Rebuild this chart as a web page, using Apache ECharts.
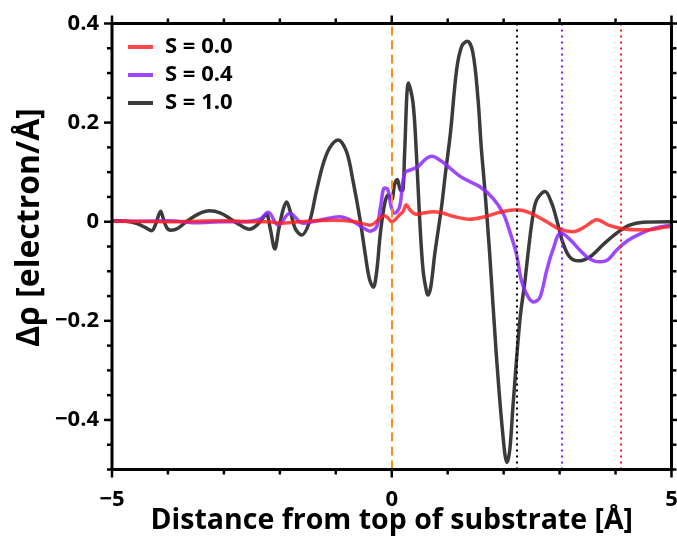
<!DOCTYPE html>
<html>
<head>
<meta charset="utf-8">
<script src="https://cdn.jsdelivr.net/npm/echarts@6/dist/echarts.min.js"></script>
<style>
html,body{margin:0;padding:0;background:#fff;}
#chart{width:677px;height:542px;}
</style>
</head>
<body>
<div id="chart"></div>
<script>
// ---- data ----
const seriesNames = ['S = 0.0', 'S = 0.4', 'S = 1.0'];

const xS00 = [-5.0,-4.0,-3.0,-2.5,-2.18,-2.0,-1.64,-1.05,-0.66,-0.39,-0.13,-0.07,0.0,0.07,0.14,0.20,0.26,0.34,0.44,0.59,0.73,0.89,1.13,1.39,1.66,1.93,2.23,2.47,2.77,3.0,3.24,3.48,3.66,3.90,4.08,4.34,4.61,4.97,5.0];
const yS00 = [0.001,0.0,0.002,0.0,0.0,-0.003,0.0,0.003,0.0,-0.007,0.012,0.008,0.0,0.005,0.014,0.02,0.034,0.022,0.015,0.018,0.02,0.018,0.01,0.005,0.01,0.019,0.024,0.018,0.0,-0.015,-0.02,-0.008,0.004,-0.008,-0.013,-0.016,-0.016,-0.01,-0.01];

const xS04 = [-5.0,-4.5,-4.0,-3.5,-3.0,-2.7,-2.36,-2.21,-2.03,-1.82,-1.59,-1.29,-0.93,-0.75,-0.54,-0.39,-0.27,-0.20,-0.13,-0.07,-0.01,0.05,0.14,0.23,0.35,0.47,0.59,0.71,0.89,1.04,1.27,1.57,1.81,1.99,2.11,2.23,2.32,2.44,2.54,2.65,2.77,2.88,3.02,3.16,3.36,3.54,3.72,3.86,4.02,4.22,4.43,4.70,4.97,5.0];
const yS04 = [0.002,0.001,0.002,-0.002,0.0,0.0,0.005,0.019,-0.007,0.017,-0.003,0.003,0.01,0.004,-0.01,-0.019,-0.01,0.03,0.068,0.065,0.03,0.017,0.03,0.098,0.105,0.111,0.125,0.132,0.122,0.108,0.088,0.071,0.047,0.017,-0.02,-0.066,-0.12,-0.152,-0.162,-0.152,-0.098,-0.057,-0.023,-0.033,-0.057,-0.075,-0.081,-0.077,-0.057,-0.038,-0.025,-0.013,-0.007,-0.006];

const xS10 = [-5.0,-4.75,-4.55,-4.40,-4.29,-4.22,-4.13,-4.08,-4.02,-3.95,-3.82,-3.65,-3.45,-3.25,-3.07,-2.90,-2.72,-2.54,-2.42,-2.30,-2.24,-2.17,-2.09,-2.02,-1.94,-1.88,-1.80,-1.72,-1.61,-1.47,-1.35,-1.23,-1.11,-0.96,-0.81,-0.69,-0.57,-0.48,-0.40,-0.33,-0.27,-0.20,-0.12,-0.06,0.0,0.05,0.10,0.16,0.20,0.23,0.30,0.38,0.44,0.50,0.56,0.62,0.65,0.70,0.77,0.89,0.96,1.05,1.16,1.25,1.35,1.45,1.54,1.60,1.66,1.75,1.87,1.99,2.06,2.11,2.17,2.29,2.38,2.45,2.52,2.59,2.74,2.86,2.95,3.06,3.18,3.33,3.54,3.77,4.02,4.25,4.49,5.0];
const yS10 = [0.002,0.001,-0.004,-0.012,-0.018,-0.005,0.021,0.005,-0.012,-0.017,-0.013,0.002,0.016,0.022,0.018,0.007,-0.006,-0.015,-0.008,0.008,0.015,-0.015,-0.055,-0.015,0.025,0.04,0.015,-0.015,-0.027,0.0,0.06,0.115,0.149,0.165,0.142,0.081,0.007,-0.061,-0.115,-0.132,-0.101,-0.02,0.04,0.054,0.045,0.075,0.085,0.063,0.064,0.139,0.28,0.24,0.139,0.003,-0.098,-0.14,-0.148,-0.13,-0.064,0.03,0.098,0.18,0.307,0.354,0.364,0.341,0.25,0.15,0.07,-0.064,-0.27,-0.435,-0.486,-0.46,-0.367,-0.199,-0.12,-0.05,0.01,0.044,0.061,0.037,0.003,-0.043,-0.071,-0.079,-0.071,-0.047,-0.023,-0.007,-0.001,0.0];

// reference vertical lines
const surfaceX = 0;           // orange dashed
const markerS10 = 2.23;       // black dotted
const markerS04 = 3.04;       // purple dotted
const markerS00 = 4.09;       // red dotted

// axis ranges and ticks
const xRange = [-5, 5];
const yRange = [-0.5, 0.4];
const xMajorTicks = [-5, 0, 5];
const xMinorTicks = [-4, -3, -2, -1, 1, 2, 3, 4];
const yLabelTicks = [-0.4, -0.2, 0, 0.2, 0.4];
const yMinorTicks = [-0.5, -0.45, -0.35, -0.3, -0.25, -0.15, -0.1, -0.05, 0.05, 0.1, 0.15, 0.25, 0.3, 0.35];

const xTitle = 'Distance from top of substrate [Å]';
const yTitle = 'Δρ [electron/Å]';

// ---- chart ----
const FONT = 'Open Sans';
const fmt = v => String(Math.round(v * 100) / 100).replace('-', '\u2212');
const zip = (xs, ys) => xs.map((x, i) => [x, ys[i]]);

// frame (box) and outward ticks on all four sides, positioned by the axes' scales via api.coord
function renderFrame(params, api) {
  const kids = [];
  const tick = (x1, y1, x2, y2) => kids.push({ type: 'line', shape: { x1, y1, x2, y2 }, style: { stroke: '#000', lineWidth: 2.5 } });
  const bl = api.coord([xRange[0], yRange[0]]);
  const tr = api.coord([xRange[1], yRange[1]]);
  kids.push({ type: 'rect', shape: { x: bl[0], y: tr[1], width: tr[0] - bl[0], height: bl[1] - tr[1] },
              style: { fill: 'none', stroke: '#000', lineWidth: 3 } });
  const xT = (vals, len) => vals.forEach(v => {
    const b = api.coord([v, yRange[0]]), t = api.coord([v, yRange[1]]);
    tick(b[0], b[1], b[0], b[1] + len); tick(t[0], t[1], t[0], t[1] - len);
  });
  const yT = (vals, len) => vals.forEach(v => {
    const l = api.coord([xRange[0], v]), r = api.coord([xRange[1], v]);
    tick(l[0], l[1], l[0] - len, l[1]); tick(r[0], r[1], r[0] + len, r[1]);
  });
  xT(xMajorTicks, 8); xT(xMinorTicks, 5);
  yT(yLabelTicks, 8); yT(yMinorTicks, 5);
  return { type: 'group', children: kids };
}

const vline = (x, color, type) => ({ xAxis: x, lineStyle: { color: color, type: type, width: 2 } });
const legendIcon = 'path://M0,0 L25,0 L25,4 L0,4 Z M32,2 L32.01,2 L32,2.01 Z';

const chart = echarts.init(document.getElementById('chart'));
chart.setOption({
  animation: false,
  grid: { left: 112, right: 5.5, top: 23.5, bottom: 72.5, outerBoundsMode: 'none' },
  xAxis: {
    type: 'value', position: 'bottom', min: xRange[0], max: xRange[1], interval: 5,
    axisLine: { show: false, onZero: false }, axisTick: { show: false },
    axisLabel: { formatter: fmt, color: '#000', fontFamily: FONT, fontWeight: 'bold', fontSize: 22, lineHeight: 22, margin: 19 },
    splitLine: { show: false },
    name: xTitle, nameLocation: 'middle', nameGap: 37, nameMoveOverlap: false,
    nameTextStyle: { color: '#000', fontFamily: FONT, fontWeight: 'bold', fontSize: 28.5 }
  },
  yAxis: {
    type: 'value', position: 'left', min: yRange[0], max: yRange[1], interval: 0.1,
    axisLine: { show: false, onZero: false }, axisTick: { show: false },
    axisLabel: { customValues: yLabelTicks, formatter: fmt, color: '#000', fontFamily: FONT, fontWeight: 'bold', fontSize: 22, margin: 13 },
    splitLine: { show: false },
    name: yTitle, nameLocation: 'middle', nameGap: 66, nameMoveOverlap: false,
    nameTextStyle: { color: '#000', fontFamily: FONT, fontWeight: 'bold', fontSize: 32, padding: [0, 0, 0, 38] }
  },
  legend: {
    data: seriesNames, orient: 'vertical', left: 123, top: 31,
    icon: legendIcon, itemWidth: 32, itemHeight: 4, itemGap: 6,
    textStyle: { color: '#000', fontFamily: FONT, fontWeight: 'bold', fontSize: 22 }
  },
  series: [
    {
      name: seriesNames[2], type: 'line', data: zip(xS10, yS10), smooth: 0.35,
      symbol: 'none', lineStyle: { color: 'rgba(25,25,25,0.85)', width: 3.5 }, itemStyle: { color: 'rgba(25,25,25,0.85)' },
      markLine: {
        silent: true, symbol: 'none', label: { show: false },
        data: [vline(surfaceX, '#ff8c1a', [9, 5]), vline(markerS10, '#000', [2, 4]), vline(markerS04, '#8a1aff', [2, 4]), vline(markerS00, '#ff1a1a', [2, 4])]
      }
    },
    {
      name: seriesNames[1], type: 'line', data: zip(xS04, yS04), smooth: 0.35,
      symbol: 'none', lineStyle: { color: 'rgba(140,40,255,0.85)', width: 3.5 }, itemStyle: { color: 'rgba(140,40,255,0.85)' }
    },
    {
      name: seriesNames[0], type: 'line', data: zip(xS00, yS00), smooth: 0.35,
      symbol: 'none', lineStyle: { color: 'rgba(255,30,30,0.82)', width: 3.5 }, itemStyle: { color: 'rgba(255,30,30,0.82)' }
    },
    {
      type: 'custom', name: 'frame', silent: true, clip: false, z: 10,
      data: [[xRange[0], yRange[0]]],
      renderItem: renderFrame
    }
  ]
});
</script>
</body>
</html>
